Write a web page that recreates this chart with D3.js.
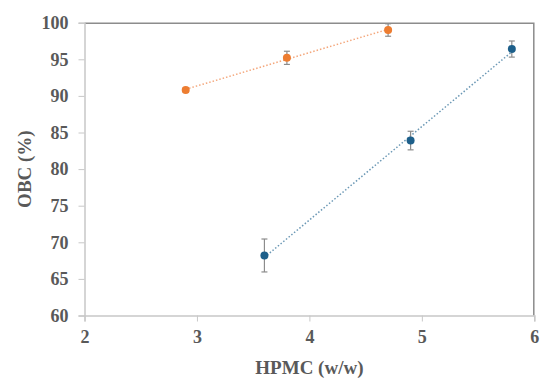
<!DOCTYPE html>
<html>
<head>
<meta charset="utf-8">
<script src="https://cdn.jsdelivr.net/npm/d3@7"></script>
<style>
  body { margin: 0; background: #fff; }
  svg { display: block; }
  .tick text { font-family: "Liberation Serif", "Times New Roman", serif; font-weight: bold; font-size: 18px; fill: #595959; }
  .title { font-family: "Liberation Serif", "Times New Roman", serif; font-weight: bold; font-size: 19px; fill: #595959; }
</style>
</head>
<body>
<svg id="chart" width="550" height="383"></svg>
<script>
// data
const orangeX = [2.9, 3.8, 4.7];
const orangeY = [90.8, 95.2, 99.0];
const orangeErr = [0.3, 0.9, 0.85];

const blueX = [3.6, 4.9, 5.8];
const blueY = [68.2, 83.9, 96.4];
const blueErr = [2.25, 1.27, 1.1];

const xTicks = [2, 3, 4, 5, 6];
const yTicks = [60, 65, 70, 75, 80, 85, 90, 95, 100];

const series = [
  { x: orangeX, y: orangeY, err: orangeErr, colour: "#ed7d31", trend: "#f4a77c" },
  { x: blueX, y: blueY, err: blueErr, colour: "#1d5f8a", trend: "#6b98b5" }
];

const margin = { top: 22.7, right: 15.7, bottom: 67.5, left: 84.5 };
const width = 550 - margin.left - margin.right,
  height = 383 - margin.top - margin.bottom;

const svg = d3.select("#chart");
const graph = svg.append("g")
  .attr("transform", `translate(${margin.left}, ${margin.top})`);

const x = d3.scaleLinear().domain([2, 6]).range([0, width]);
const y = d3.scaleLinear().domain([60, 100]).range([height, 0]);

// top and right border of the plot area
graph.append("path")
  .attr("d", `M0,0.5H${width - 0.5}V${height}`)
  .attr("fill", "none")
  .attr("stroke", "#8c8c8c")
  .attr("stroke-width", 1.5);

const yAxis = graph.append("g")
  .call(d3.axisLeft(y).tickValues(yTicks).tickSize(6).tickPadding(10));
const xAxis = graph.append("g")
  .attr("transform", `translate(0, ${height})`)
  .call(d3.axisBottom(x).tickValues(xTicks).tickFormat(d3.format("d")).tickSize(6).tickPadding(9));

[xAxis, yAxis].forEach(a => {
  a.select(".domain").attr("stroke", "#c8c8c8").attr("stroke-width", 1.5);
  a.selectAll(".tick line").attr("stroke", "#c8c8c8").attr("stroke-width", 1);
});

// linear trendline fitted to each series
const fit = (xs, ys) => {
  const mx = d3.mean(xs), my = d3.mean(ys);
  const b = d3.sum(xs, (v, i) => (v - mx) * (ys[i] - my)) / d3.sum(xs, v => (v - mx) * (v - mx));
  return v => my + b * (v - mx);
};

series.forEach(s => {
  const f = fit(s.x, s.y);
  const ext = d3.extent(s.x);
  graph.append("path")
    .datum(ext)
    .attr("fill", "none")
    .attr("stroke", s.trend)
    .attr("stroke-width", 1.5)
    .attr("stroke-dasharray", "1.5 2")
    .attr("d", d3.line().x(d => x(d)).y(d => y(f(d))));
});

series.forEach(s => {
  const pts = s.x.map((v, i) => ({ x: v, y: s.y[i], e: s.err[i] }));
  const bars = graph.append("g").selectAll("g").data(pts).join("g")
    .attr("stroke", "#8c8c8c").attr("stroke-width", 1.2);
  bars.append("line")
    .attr("x1", d => x(d.x)).attr("x2", d => x(d.x))
    .attr("y1", d => y(d.y + d.e)).attr("y2", d => y(d.y - d.e));
  bars.append("line")
    .attr("x1", d => x(d.x) - 3).attr("x2", d => x(d.x) + 3)
    .attr("y1", d => y(d.y + d.e)).attr("y2", d => y(d.y + d.e));
  bars.append("line")
    .attr("x1", d => x(d.x) - 3).attr("x2", d => x(d.x) + 3)
    .attr("y1", d => y(d.y - d.e)).attr("y2", d => y(d.y - d.e));

  graph.append("g").selectAll("circle").data(pts).join("circle")
    .attr("cx", d => x(d.x))
    .attr("cy", d => y(d.y))
    .attr("r", 4)
    .attr("fill", s.colour);
});

graph.append("text")
  .attr("class", "title")
  .attr("x", width / 2)
  .attr("y", height + 59)
  .attr("text-anchor", "middle")
  .text("HPMC (w/w)");

graph.append("text")
  .attr("class", "title")
  .attr("transform", `translate(${-margin.left + 31}, ${height / 2}) rotate(-90)`)
  .attr("text-anchor", "middle")
  .text("OBC (%)");
</script>
</body>
</html>
